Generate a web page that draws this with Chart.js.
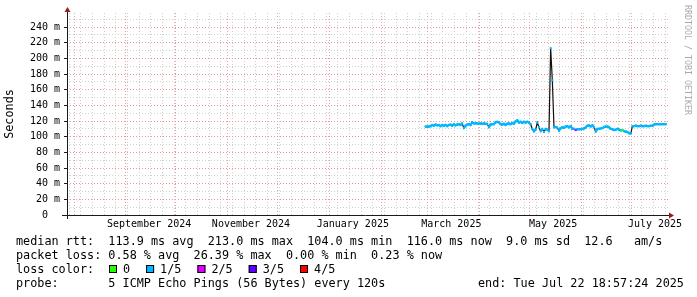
<!DOCTYPE html>
<html>
<head>
<meta charset="utf-8">
<script src="https://cdn.jsdelivr.net/npm/chart.js@4.4.0/dist/chart.umd.min.js"></script>
<style>
html, body { margin: 0; padding: 0; background: #fff; }
</style>
</head>
<body>
<canvas id="pingChart" width="697" height="297"></canvas>
<script>
const DAY = 86400000;
const endTime = Date.UTC(2025, 6, 22, 18, 57, 24) / DAY;
const startTime = endTime - 360;

// one median value per day, starting at firstDay
const firstDay = '2025-02-27';
const medianMs = [
    113, 113, 113, 113.5, 115, 114, 115.5, 114.5, 115, 113.5,
    115, 114, 115, 113.5, 115, 115.5, 114, 116, 114.5, 115.5,
    116, 115, 117, 111, 114, 115.5, 116, 115, 118.5, 117,
    117, 117, 116.5, 117, 116.5, 117, 116.5, 116.5, 112, 115.5,
    116, 116, 118.5, 119, 118.5, 116, 115.5, 116.5, 115, 116.5,
    117, 116, 117.5, 116.5, 119.5, 121, 118, 119, 117.5, 119,
    118, 119, 118, 116, 110, 107, 109, 118, 112, 107,
    110, 106, 110, 109, 107, 213, 172, 112, 112.5, 111.5,
    107.5, 111, 112, 111.5, 113, 113.5, 112, 113.5, 110, 110,
    108.5, 109.5, 109.5, 109.5, 110, 110.5, 112, 114, 114.5, 113,
    114.5, 112, 106.5, 110, 110, 110.5, 111, 112.5, 113, 113,
    112, 110, 109.5, 108.5, 109, 110, 109, 108, 108.5, 107,
    106.5, 106, 104.5, 104, 113.5, 113.5, 114, 113.5, 113.5, 114,
    113.5, 113.5, 114, 113.5, 113.5, 114, 114, 115.5, 116, 116,
    116, 116, 116, 116, 116
];
// loss class per day: 0 = no loss, 1 = 1/5, 2 = 2/5 ...
const lossClass = [
    1, 1, 1, 1, 1, 1, 1, 1, 1, 1,
    1, 1, 1, 1, 1, 1, 1, 1, 1, 1,
    1, 1, 1, 1, 1, 1, 1, 1, 1, 1,
    1, 1, 1, 1, 1, 1, 1, 1, 1, 1,
    1, 1, 1, 1, 1, 1, 1, 1, 1, 1,
    1, 1, 1, 1, 1, 1, 1, 1, 1, 1,
    1, 1, 1, 1, 1, 1, 1, 1, 1, 1,
    1, 1, 1, 1, 1, 1, 1, 1, 1, 1,
    1, 1, 1, 1, 1, 1, 1, 1, 1, 1,
    2, 1, 1, 1, 1, 1, 1, 1, 1, 1,
    1, 1, 1, 1, 1, 1, 1, 1, 1, 1,
    1, 1, 1, 1, 1, 1, 1, 1, 0, 1,
    1, 1, 1, 1, 1, 1, 1, 1, 1, 1,
    1, 1, 1, 1, 1, 1, 1, 1, 1, 1,
    1, 1, 1, 1, 1
];
const lossColors = ['#26ff00', '#00b8ff', '#dd00ff', '#5e00ff', '#ff0000'];
const lossNames = ['0', '1/5', '2/5', '3/5', '4/5'];

const monthLabels = ['September 2024', 'November 2024', 'January 2025', 'March 2025', 'May 2025', 'July 2025'];
const monthLabelDates = ['2024-09-15', '2024-11-15', '2025-01-15', '2025-03-15', '2025-05-15', '2025-07-15'];
const yTickValues = [0, 10, 20, 30, 40, 50, 60, 70, 80, 90, 100, 110, 120, 130, 140, 150, 160, 170, 180, 190, 200, 210, 220, 230, 240, 250];

const rttLine = 'median rtt:  113.9 ms avg  213.0 ms max  104.0 ms min  116.0 ms now  9.0 ms sd  12.6   am/s';
const lossLine = 'packet loss: 0.58 % avg  26.39 % max  0.00 % min  0.23 % now';
const probeLine = 'probe:       5 ICMP Echo Pings (56 Bytes) every 120s';
const endLine = 'end: Tue Jul 22 18:57:24 2025';

const MONO = '"DejaVu Sans Mono", monospace';
const MGRID = '#e99595';
const MGRID_V = '#f0a0a0';
const GRID = '#cfcfcf';

const toDay = s => Date.parse(s + 'T00:00:00Z') / DAY;
const day0 = toDay(firstDay);
const points = medianMs.map((v, i) => ({ x: day0 + i + 0.5, y: v }));

function timeTicks() {
    const ticks = [];
    let monday = Math.ceil(startTime);
    while (new Date(monday * DAY).getUTCDay() !== 1) monday++;
    for (let t = monday; t <= endTime; t += 7) ticks.push({ value: t, kind: 'week' });
    for (let y = 2024, m = 6; ; m++) {
        if (m > 11) { m = 0; y++; }
        const t = Date.UTC(y, m, 1) / DAY;
        if (t > endTime) break;
        if (t >= startTime) ticks.push({ value: t, kind: 'month' });
    }
    monthLabelDates.forEach((d, i) => ticks.push({ value: toDay(d), kind: 'label', text: monthLabels[i] }));
    return ticks.sort((a, b) => a.value - b.value);
}

function xGridColor(c) {
    const kind = c.tick ? c.tick.kind : '';
    if (kind === 'month') return MGRID_V;
    if (kind === 'week') return GRID;
    return 'rgba(0,0,0,0)';
}

const decorations = {
    id: 'decorations',
    afterDraw(chart) {
        const { ctx, chartArea: a } = chart;
        ctx.save();
        // axes
        ctx.strokeStyle = '#1a1a1a';
        ctx.lineWidth = 1;
        ctx.beginPath();
        ctx.moveTo(a.left - 5, a.bottom + 0.5);
        ctx.lineTo(a.right + 1, a.bottom + 0.5);
        ctx.moveTo(a.left + 0.5, a.bottom + 4);
        ctx.lineTo(a.left + 0.5, a.top - 1);
        ctx.stroke();
        ctx.fillStyle = '#9c1c1c';
        ctx.beginPath();
        ctx.moveTo(a.right + 6, a.bottom + 0.5);
        ctx.lineTo(a.right + 1, a.bottom - 2.5);
        ctx.lineTo(a.right + 1, a.bottom + 3.5);
        ctx.fill();
        ctx.beginPath();
        ctx.moveTo(a.left + 0.5, a.top - 6);
        ctx.lineTo(a.left - 2.5, a.top - 1);
        ctx.lineTo(a.left + 3.5, a.top - 1);
        ctx.fill();

        // legend
        ctx.fillStyle = '#000';
        ctx.font = '11.8px ' + MONO;
        ctx.textBaseline = 'alphabetic';
        ctx.textAlign = 'left';
        ctx.fillText(rttLine, 16, 245);
        ctx.fillText(lossLine, 16, 259);
        ctx.fillText('loss color:', 16, 273);
        ctx.fillText(probeLine, 16, 287);
        ctx.fillText(endLine, 478, 287);
        let x = 109;
        lossNames.forEach((name, i) => {
            ctx.fillStyle = lossColors[i];
            ctx.fillRect(x, 265, 8, 8);
            ctx.strokeStyle = '#000';
            ctx.strokeRect(x + 0.5, 265.5, 7, 7);
            ctx.fillStyle = '#000';
            ctx.fillText(name, x + 14, 273);
            x += 14 + ctx.measureText(name).width + 16;
        });

        // watermark
        ctx.translate(687, 5);
        ctx.rotate(Math.PI / 2);
        ctx.fillStyle = '#aaaaaa';
        ctx.font = '8.3px ' + MONO;
        ctx.textBaseline = 'middle';
        ctx.fillText('RRDTOOL / TOBI OETIKER', 0, 0);
        ctx.restore();
    }
};

new Chart(document.getElementById('pingChart'), {
    type: 'line',
    data: {
        datasets: [{
            data: points,
            borderColor: '#111111',
            borderWidth: 1.2,
            pointRadius: 0,
            order: 2
        }, {
            data: points,
            borderWidth: 2.2,
            borderColor: lossColors[1],
            pointStyle: 'line',
            pointRadius: 1,
            pointBorderWidth: 2.2,
            pointBorderColor: c => lossColors[lossClass[c.dataIndex]],
            segment: {
                borderColor: c => Math.abs(c.p1.parsed.y - c.p0.parsed.y) > 3.5
                    ? 'rgba(0,0,0,0)' : lossColors[lossClass[c.p0DataIndex]]
            },
            order: 1
        }]
    },
    options: {
        responsive: false,
        devicePixelRatio: 1,
        animation: false,
        events: [],
        layout: { padding: { left: 0, top: 13, right: 29, bottom: 0 } },
        plugins: { legend: { display: false }, tooltip: { enabled: false } },
        scales: {
            x: {
                type: 'linear',
                min: startTime,
                max: endTime,
                afterBuildTicks: s => { s.ticks = timeTicks(); },
                afterFit: s => { s.height = 82; },
                grid: {
                    drawTicks: false,
                    lineWidth: 1,
                    color: xGridColor
                },
                border: { display: false, dash: [1, 2] },
                ticks: {
                    autoSkip: false,
                    maxRotation: 0,
                    minRotation: 0,
                    padding: 3,
                    color: '#000',
                    font: { family: MONO, size: 10 },
                    callback: (v, i, ticks) => ticks[i].kind === 'label' ? ticks[i].text : ''
                }
            },
            y: {
                min: 0,
                max: 258,
                afterBuildTicks: s => { s.ticks = yTickValues.map(v => ({ value: v })); },
                afterFit: s => { s.width = 67; },
                grid: {
                    drawTicks: true,
                    tickLength: 3,
                    lineWidth: 1,
                    tickColor: c => c.tick && c.tick.value % 20 === 0 ? '#1a1a1a' : 'rgba(0,0,0,0)',
                    color: c => c.tick && c.tick.value % 20 === 0 ? MGRID : GRID
                },
                border: { display: false, dash: [1, 2] },
                title: {
                    display: true,
                    text: 'Seconds',
                    color: '#000',
                    font: { family: MONO, size: 11.8 },
                    padding: { top: 3, bottom: 0 }
                },
                ticks: {
                    autoSkip: false,
                    padding: 4,
                    color: '#000',
                    font: { family: MONO, size: 10 },
                    callback: v => v % 20 === 0 ? (v === 0 ? '0  ' : v + ' m') : ''
                }
            }
        }
    },
    plugins: [decorations]
});
</script>
</body>
</html>
